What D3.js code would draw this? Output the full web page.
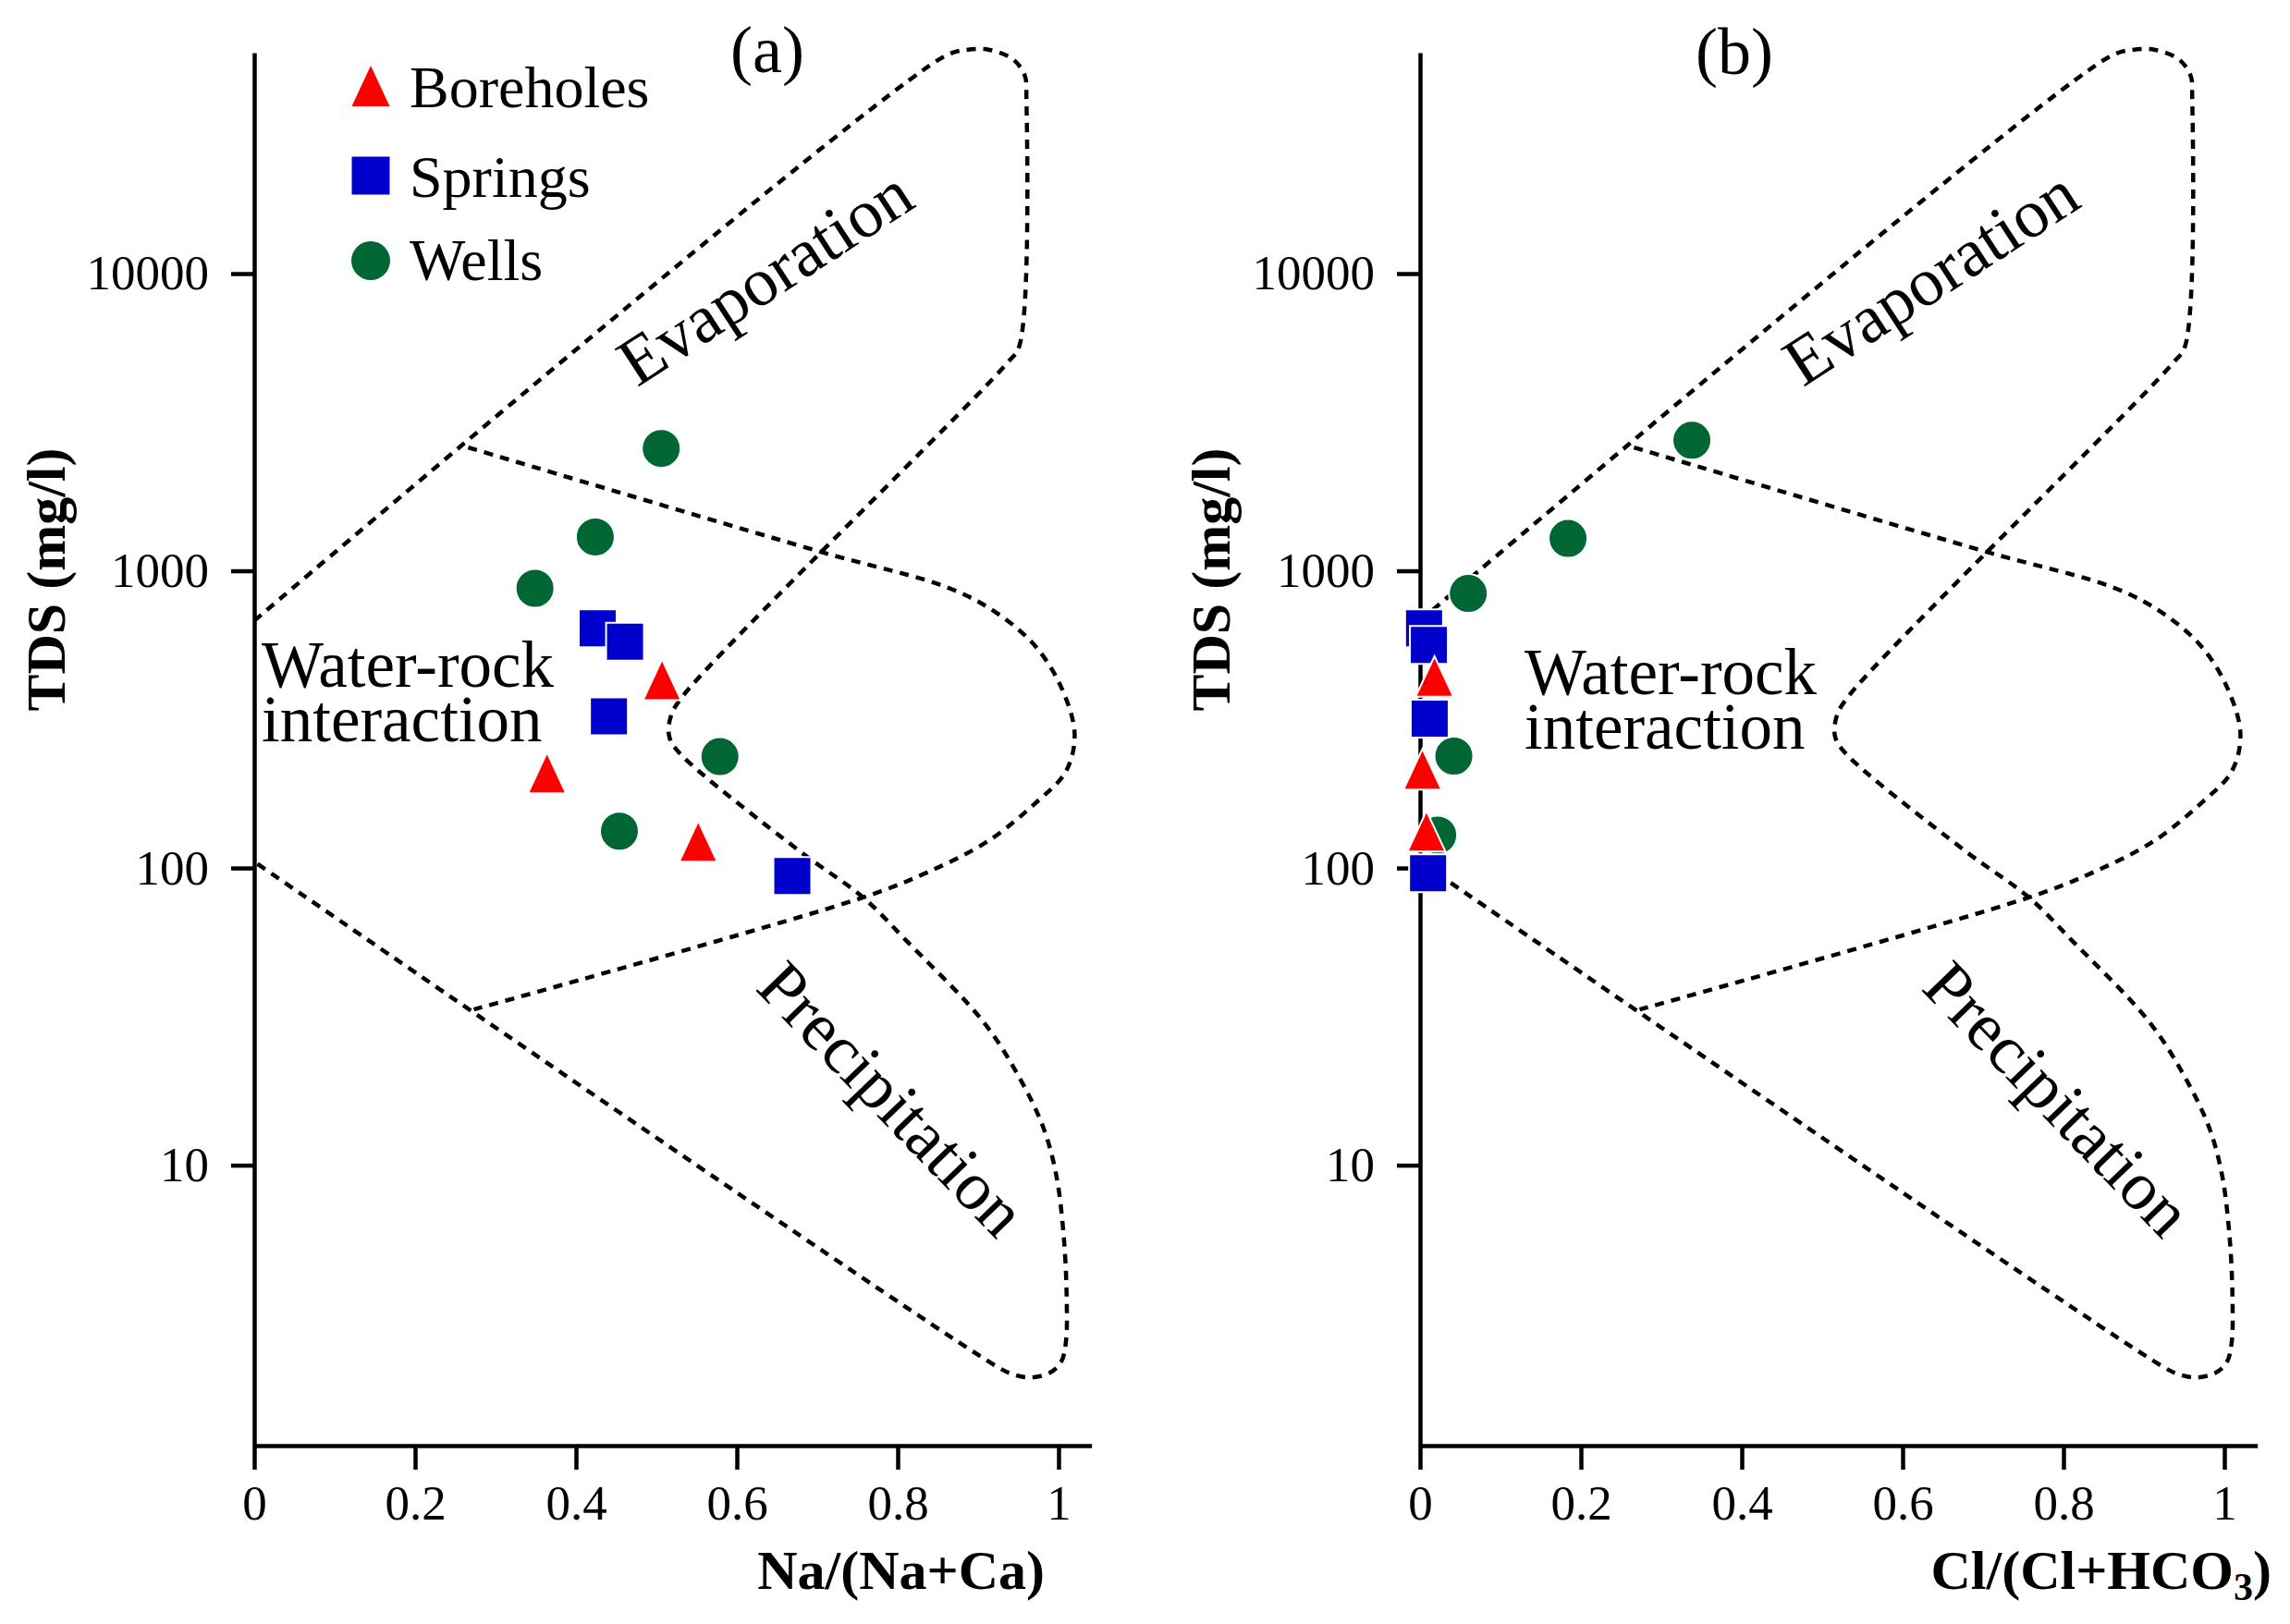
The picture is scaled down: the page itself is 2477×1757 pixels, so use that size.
<!DOCTYPE html>
<html>
<head>
<meta charset="utf-8">
<script src="https://cdnjs.cloudflare.com/ajax/libs/d3/7.8.5/d3.min.js"></script>
<style>
  body { margin: 0; background: #fff; }
  text { font-family: "Liberation Serif", "Times New Roman", serif; }
</style>
</head>
<body>
<script>
// Gibbs diagrams: TDS vs Na/(Na+Ca) and TDS vs Cl/(Cl+HCO3)

var seriesNames = ["Boreholes", "Springs", "Wells"];

// panel (a)
var boreholeNa  = [0.507, 0.364, 0.552];
var boreholeTdsA = [430, 209, 123];
var springNa    = [0.427, 0.461, 0.441, 0.669];
var springTdsA  = [641, 577, 324, 94];
var wellNa      = [0.506, 0.424, 0.349, 0.579, 0.454];
var wellTdsA    = [2580, 1300, 873, 237, 133];

// panel (b)
var boreholeCl  = [0.018, 0.003, 0.008];
var boreholeTdsB = [441, 215, 133];
var springCl    = [0.005, 0.011, 0.012, 0.010];
var springTdsB  = [640, 563, 318, 96];
var wellCl      = [0.338, 0.184, 0.060, 0.042, 0.022];
var wellTdsB    = [2750, 1285, 839, 238, 129];

// Gibbs boundary (dotted) – outer boomerang and inner water-rock bulge
var outerX   = [0, 0.857, 0.886, 0.914, 0.943, 0.958, 0.960, 0.951, 0.937, 0.533, 0.518, 0.516, 0.528,
                0.678, 0.757, 0.810, 0.906, 0.950, 0.981, 0.997, 1.006, 1.010, 1.009, 1.003, 0.989,
                0.964, 0.943, 0.926, 0];
var outerTds = [679, 53600, 56600, 56600, 52700, 46400, 39300, 5680, 5030, 379, 324, 277, 245,
                114, 79.6, 57.2, 30.5, 20.0, 13.4, 9.3, 5.95, 3.69, 2.52, 2.17, 2.0,
                1.93, 1.98, 2.08, 105];
var innerX   = [0.266, 0.700, 0.866, 0.926, 0.972, 1.004, 1.020, 1.009, 0.972, 0.912, 0.834, 0.757, 0.273];
var innerTds = [2600, 1167, 870, 712, 554, 402, 281, 211, 166, 123, 95.9, 79.6, 33.4];

var xTicks = [0, 0.2, 0.4, 0.6, 0.8, 1];
var yTicks = [10, 100, 1000, 10000];

var W = 2477, H = 1757;
var colors = {Boreholes: "#ff0000", Springs: "#0000cc", Wells: "#006633"};

var svg = d3.select("body").append("svg")
    .attr("width", W)
    .attr("height", H)
    .style("background", "#fff");

// shared y scale (log), axis runs from y=57 to y=1564
var yBase = d3.scaleLog().domain([10, 10000]).range([1260.6, 296]);
var yTop = 57, yBottom = 1564;
var y = d3.scaleLog().domain([yBase.invert(yBottom), yBase.invert(yTop)]).range([yBottom, yTop]);

// taller-than-wide triangle, centred on its box
var tallTriangle = {
    draw: function(context, size) {
        var w = 41, h = 44;
        context.moveTo(0, -h / 2);
        context.lineTo(w / 2, h / 2);
        context.lineTo(-w / 2, h / 2);
        context.closePath();
    }
};
var symbolFor = {
    Boreholes: d3.symbol().type(tallTriangle).size(1),
    Springs: d3.symbol().type(d3.symbolSquare).size(41 * 41),
    Wells: d3.symbol().type(d3.symbolCircle).size(Math.PI * 21 * 21)
};

function drawPanel(p) {
    var g = svg.append("g");
    var x = d3.scaleLinear().domain([0, 1.041]).range([p.left, p.left + 1.041 * 870]);

    var line = d3.line()
        .x(d => x(d[0]))
        .y(d => y(d[1]))
        .curve(d3.curveCatmullRom.alpha(0.5));

    [[outerX, outerTds], [innerX, innerTds]].forEach(b => {
        g.append("path")
            .datum(b[0].map((v, i) => [v, b[1][i]]))
            .attr("d", line)
            .attr("fill", "none")
            .attr("stroke", "#000")
            .attr("stroke-width", 4.5)
            .attr("stroke-dasharray", "10,8");
    });

    // axes
    var xAxis = g.append("g")
        .attr("transform", "translate(0," + yBottom + ")")
        .call(d3.axisBottom(x).tickValues(xTicks).tickFormat(d => d)
            .tickSize(26).tickSizeOuter(0).tickPadding(16));
    var yAxis = g.append("g")
        .attr("transform", "translate(" + p.left + ",0)")
        .call(d3.axisLeft(y).tickValues(yTicks).tickFormat(d => d)
            .tickSize(25).tickSizeOuter(0).tickPadding(24));
    [xAxis, yAxis].forEach(a => {
        a.attr("font-family", null).attr("font-size", 53);
        a.selectAll("path, line").attr("stroke", "#000").attr("stroke-width", 4.5);
        a.selectAll("text").attr("fill", "#000");
    });

    // region labels
    g.append("text")
        .attr("transform", "translate(" + p.evap[0] + "," + p.evap[1] + ") rotate(-33)")
        .attr("text-anchor", "middle")
        .attr("font-size", 74)
        .text("Evaporation");
    g.append("text")
        .attr("transform", "translate(" + p.prec[0] + "," + p.prec[1] + ") rotate(46)")
        .attr("text-anchor", "middle")
        .attr("font-size", 74)
        .text("Precipitation");
    g.append("text")
        .attr("x", p.water[0])
        .attr("y", p.water[1])
        .attr("font-size", 71)
        .text("Water-rock");
    g.append("text")
        .attr("x", p.water[0])
        .attr("y", p.water[1] + 59)
        .attr("font-size", 71)
        .text("interaction");

    // panel letter
    g.append("text")
        .attr("x", p.letter[0])
        .attr("y", p.letter[1])
        .attr("text-anchor", "middle")
        .attr("font-size", 72)
        .text(p.letterText);

    // y title
    g.append("text")
        .attr("transform", "translate(" + p.yTitleX + ",627) rotate(-90)")
        .attr("text-anchor", "middle")
        .attr("font-size", 60)
        .attr("font-weight", "bold")
        .text("TDS (mg/l)");

    // x title
    var xt = g.append("text")
        .attr("x", p.xTitleEnd)
        .attr("y", 1719)
        .attr("text-anchor", "end")
        .attr("font-size", 60)
        .attr("font-weight", "bold");
    p.xTitle(xt);

    // points: wells, springs, boreholes (drawing order as in the figure)
    p.series.forEach(s => {
        g.selectAll(null)
            .data(s.xs.map((v, i) => [v, s.tds[i]]))
            .enter().append("path")
            .attr("d", symbolFor[s.name])
            .attr("transform", d => "translate(" + x(d[0]) + "," + y(d[1]) + ")")
            .attr("fill", colors[s.name])
            .attr("stroke", "#fff")
            .attr("stroke-width", 2);
    });
}

drawPanel({
    left: 275,
    evap: [841, 321],
    prec: [947, 1206],
    water: [283, 743],
    letter: [830, 78],
    letterText: "(a)",
    yTitleX: 70,
    xTitleEnd: 1130,
    xTitle: t => t.text("Na/(Na+Ca)"),
    series: [
        {name: "Wells", xs: wellNa, tds: wellTdsA},
        {name: "Springs", xs: springNa, tds: springTdsA},
        {name: "Boreholes", xs: boreholeNa, tds: boreholeTdsA}
    ]
});

drawPanel({
    left: 1536,
    evap: [2102, 321],
    prec: [2208, 1206],
    water: [1649, 751],
    letter: [1876, 80],
    letterText: "(b)",
    yTitleX: 1330,
    xTitleEnd: 2457,
    xTitle: t => {
        t.append("tspan").text("Cl/(Cl+HCO");
        t.append("tspan").attr("font-size", 42).attr("dy", 12).text("3");
        t.append("tspan").attr("dy", -12).text(")");
    },
    series: [
        {name: "Wells", xs: wellCl, tds: wellTdsB},
        {name: "Springs", xs: springCl, tds: springTdsB},
        {name: "Boreholes", xs: boreholeCl, tds: boreholeTdsB}
    ]
});

// legend (panel a)
var legend = svg.append("g").selectAll("g")
    .data(seriesNames)
    .enter().append("g")
    .attr("transform", (d, i) => "translate(401," + [93, 190, 282][i] + ")");
legend.append("path")
    .attr("d", d => symbolFor[d]())
    .attr("fill", d => colors[d]);
legend.append("text")
    .attr("x", 42)
    .attr("y", (d, i) => [23, 23, 21][i])
    .attr("font-size", 64)
    .text(d => d);
</script>
</body>
</html>
